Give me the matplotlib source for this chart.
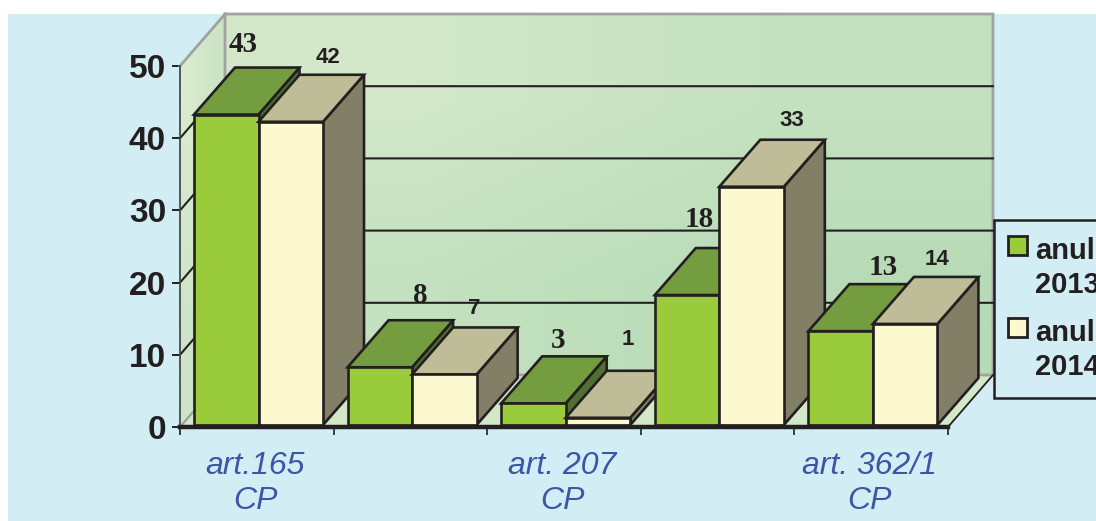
"""Grouped pseudo-3D bar chart, art. CP cases per year."""

import matplotlib
matplotlib.use("Agg")
import matplotlib.pyplot as plt
import numpy as np
from matplotlib.legend_handler import HandlerPatch
from matplotlib.patches import Patch, Polygon, Rectangle

years = ["anul\n2013", "anul\n2014"]
values_2013 = [43, 8, 3, 18, 13]
values_2014 = [42, 7, 1, 33, 14]
category_labels = ["art.165\nCP", "", "art. 207\nCP", "", "art. 362/1\nCP"]
y_ticks = [0, 10, 20, 30, 40, 50]

# hand-placed data labels in the source, pixels relative to the bar's front top centre
OFFSETS_2013 = [(17, 70), (40, 72), (25, 63), (12, 76), (43, 64)]
OFFSETS_2014 = [(37, 64), (30, 66), (30, 78), (40, 66), (32, 64)]

W, H = 1096, 521
LEFT, RIGHT, BASE, TOP = 180, 948, 427, 66
PX_X = 5 / (RIGHT - LEFT)
PX_Y = 50 / (BASE - TOP)
WALL_DX, WALL_DY = 45 * PX_X, 52 * PX_Y
BAR_DX, BAR_DY = 41 * PX_X, 47 * PX_Y
INSET_X, INSET_Y = 1.7 * PX_X, 2 * PX_Y
BAR_W = 64.5 * PX_X
GAP = 12.3 * PX_X

INK = "#231f20"
GREY = "#a0a2a4"
PANEL = "#d3edf4"
BLUE = "#3b56a6"
GREEN = ("#9acb3a", "#739d3e", "#4f7030")
CREAM = ("#fcf8d0", "#bebd97", "#817f66")

plt.rcParams["font.family"] = ["Liberation Sans", "DejaVu Sans"]

fig = plt.figure(figsize=(W / 100, H / 100), dpi=100, facecolor="white")
fig.patches.append(Rectangle((8 / W, 0), 1 - 8 / W, 1 - 14 / H, transform=fig.transFigure,
                             facecolor=PANEL, edgecolor="none", zorder=-1))
ax = fig.add_axes([LEFT / W, 1 - BASE / H, (RIGHT - LEFT) / W, (BASE - TOP) / H])
ax.patch.set_visible(False)


def gradient_wall(corners, extent, c0, c1):
    """Diagonal gradient image clipped to the wall polygon."""
    c0 = np.array(matplotlib.colors.to_rgb(c0))
    c1 = np.array(matplotlib.colors.to_rgb(c1))
    img = np.array([[c0, (c0 + c1) / 2], [(c0 + c1) / 2, c1]])
    im = ax.imshow(img, extent=extent, origin="upper", aspect="auto",
                   interpolation="bilinear", zorder=1)
    # image has to reach outside the axes box, into the depth offset
    im.set_clip_box(fig.bbox)
    im.set_clip_path(Polygon(corners, transform=ax.transData))


# back wall, left wall, floor
gradient_wall([(WALL_DX, WALL_DY), (5 + WALL_DX, WALL_DY), (5 + WALL_DX, 50 + WALL_DY), (WALL_DX, 50 + WALL_DY)],
              (WALL_DX, 5 + WALL_DX, WALL_DY, 50 + WALL_DY), "#d2e8c9", "#b7dbb6")
gradient_wall([(0, 0), (WALL_DX, WALL_DY), (WALL_DX, 50 + WALL_DY), (0, 50)],
              (0, WALL_DX, 0, 50 + WALL_DY), "#d8ebcd", "#c2dfc0")
ax.add_patch(Polygon([(0, 0), (5, 0), (5 + WALL_DX, WALL_DY), (WALL_DX, WALL_DY)],
                     facecolor="#d2e8c9", edgecolor="none", zorder=1, clip_on=False))

# grey wall edges
ax.plot([0, WALL_DX, 5 + WALL_DX, 5 + WALL_DX, WALL_DX, WALL_DX],
        [50, 50 + WALL_DY, 50 + WALL_DY, WALL_DY, WALL_DY, 50 + WALL_DY],
        color=GREY, lw=2, zorder=2, clip_on=False, solid_joinstyle="miter")
ax.plot([0, WALL_DX], [0, WALL_DY], color=GREY, lw=1.6, zorder=2, clip_on=False)

# gridlines along left and back walls
for t in y_ticks[1:-1]:
    ax.plot([0, WALL_DX, 5 + WALL_DX], [t, t + WALL_DY, t + WALL_DY],
            color=INK, lw=1.5, zorder=2, clip_on=False)
# front right floor edge
ax.plot([5, 5 + WALL_DX], [0, WALL_DY], color=INK, lw=1.3, zorder=2, clip_on=False)


def draw_bar(x, value, colors, z):
    x0 = x + INSET_X
    x1 = x0 + BAR_W
    b = INSET_Y
    t = value + INSET_Y
    faces = [
        ([(x1, b), (x1 + BAR_DX, b + BAR_DY), (x1 + BAR_DX, t + BAR_DY), (x1, t)], colors[2]),
        ([(x0, t), (x1, t), (x1 + BAR_DX, t + BAR_DY), (x0 + BAR_DX, t + BAR_DY)], colors[1]),
        ([(x0, b), (x1, b), (x1, t), (x0, t)], colors[0]),
    ]
    for pts, col in faces:
        ax.add_patch(Polygon(pts, facecolor=col, edgecolor=INK, lw=1.9, joinstyle="miter",
                             zorder=z, clip_on=False))


def label_bar(x, value, offset, family, size):
    ax.annotate(str(value), xy=(x + INSET_X + BAR_W / 2, value + INSET_Y), xytext=offset,
                textcoords="offset pixels", ha="center", va="center", color=INK,
                family=family, fontsize=size, fontweight="bold", zorder=20, annotation_clip=False)


z = 3
for i in range(len(values_2013)):
    x_a = i + GAP
    x_b = x_a + BAR_W
    draw_bar(x_a, values_2013[i], GREEN, z)
    draw_bar(x_b, values_2014[i], CREAM, z + 0.1)
    label_bar(x_a, values_2013[i], OFFSETS_2013[i], "Liberation Serif", 21)
    label_bar(x_b, values_2014[i], OFFSETS_2014[i], "Liberation Sans", 16)
    z += 1

ax.set_xlim(0, 5)
ax.set_ylim(0, 50)

for side in ("top", "right"):
    ax.spines[side].set_visible(False)
ax.spines["left"].set_color("#4a4a4c")
ax.spines["left"].set_linewidth(1.3)
ax.spines["left"].set_zorder(2.5)
ax.spines["bottom"].set_color(INK)
ax.spines["bottom"].set_linewidth(3.2)
ax.spines["bottom"].set_zorder(15)

ax.set_yticks(y_ticks)
ax.tick_params(axis="y", length=6, width=1.4, color=INK, pad=4, labelsize=24, labelcolor=INK)
for lab in ax.get_yticklabels():
    lab.set_fontweight("bold")

ax.set_xticks(range(6))
ax.set_xticklabels([])
ax.set_xticks(np.arange(5) + 0.49, minor=True)
ax.set_xticklabels(category_labels, minor=True, style="italic", fontsize=23, color=BLUE, linespacing=1.25)
ax.tick_params(axis="x", which="major", length=6, width=1.2, color=INK)
ax.tick_params(axis="x", which="minor", length=0, pad=17)


def top_line_handle(legend, orig_handle, xdescent, ydescent, width, height, fontsize):
    # matplotlib aligns on the last line of the label, the source on the first
    return Rectangle((-1.8, 17), width, height)


handles = [Patch(facecolor=GREEN[0], edgecolor=INK, lw=2), Patch(facecolor=CREAM[0], edgecolor=INK, lw=2)]
leg = fig.legend(handles, years, loc="upper left", bbox_to_anchor=(994 / W, 1 - 220 / H),
                 borderaxespad=0, prop={"weight": "bold", "size": 21},
                 facecolor=PANEL, edgecolor=INK, framealpha=1, fancybox=False,
                 handlelength=0.65, handleheight=0.65, handletextpad=0.194,
                 borderpad=0.57, labelspacing=0.69,
                 handler_map={Patch: HandlerPatch(patch_func=top_line_handle)})
leg.get_frame().set_linewidth(1.8)
for t in leg.get_texts():
    t.set_color(INK)
    t.set_linespacing(1.28)

fig.savefig("out.png", dpi=100, facecolor="white")
